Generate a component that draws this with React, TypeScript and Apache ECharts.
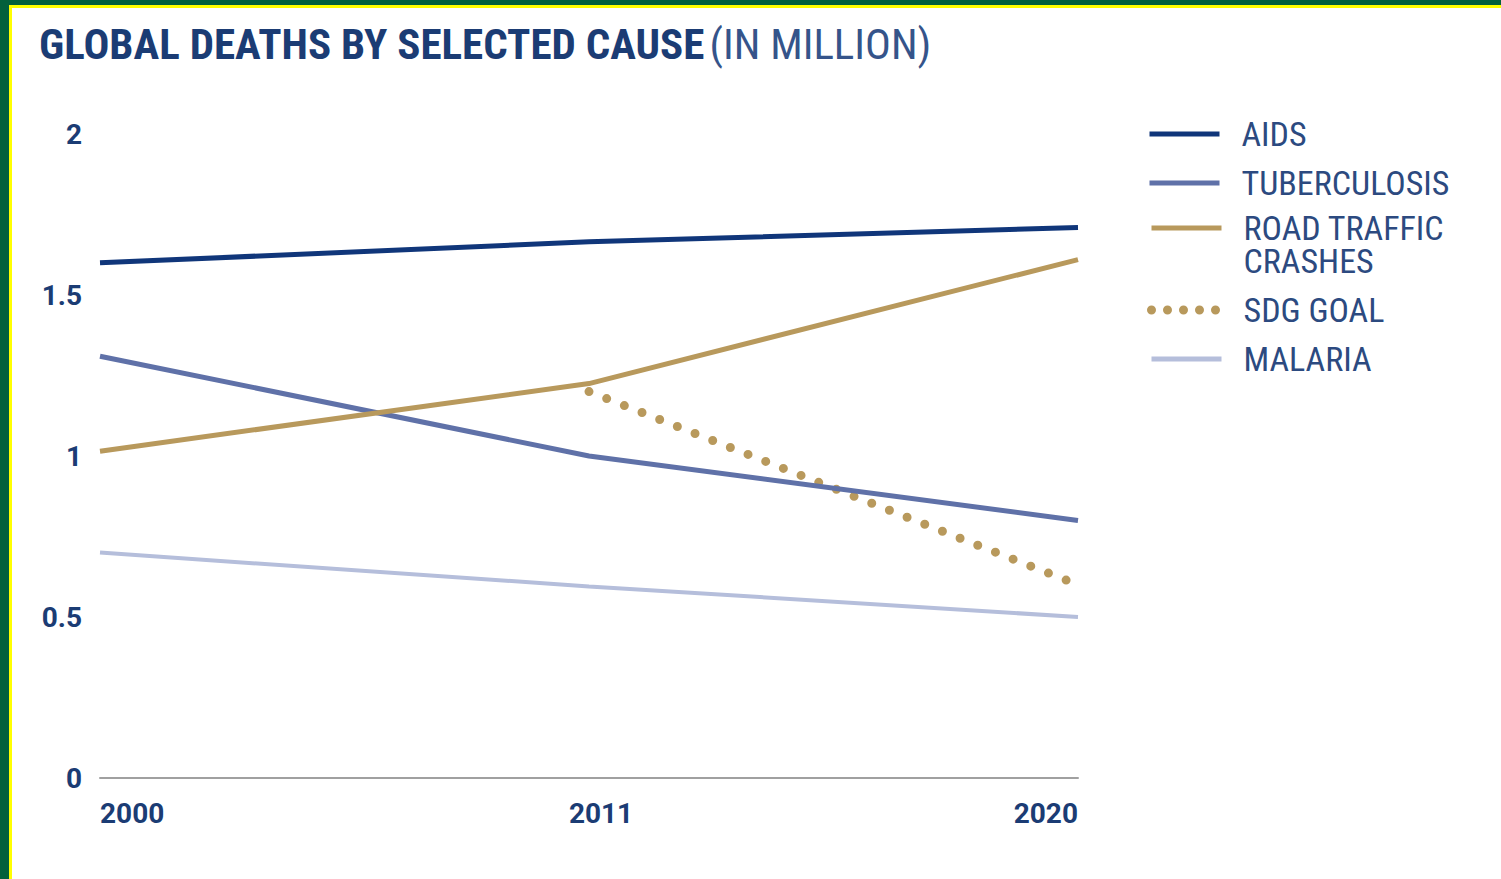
import React, { useEffect, useRef } from "react";
import * as echarts from "echarts";

const years = ["2000", "2011", "2020"];
const aids = [1.6, 1.665, 1.71];
const tuberculosis = [1.31, 1.0, 0.8];
const roadTraffic = [1.015, 1.225, 1.61];
const sdgGoal = [null, 1.2, 0.6];
const malaria = [0.7, 0.595, 0.5];
const yTicks = [0, 0.5, 1, 1.5, 2];

const NAVY = "#1b3c74";
const FONT = "'Liberation Sans Narrow', 'Arial Narrow', 'Roboto Condensed', Roboto, sans-serif";

export default function App() {
  const ref = useRef<HTMLDivElement>(null);
  useEffect(() => {
    if (!ref.current) return;
    const chart = echarts.init(ref.current, undefined, { renderer: "svg" });
    const legendText = {
      color: "#2c4a80",
      fontSize: 34,
      fontFamily: FONT,
      lineHeight: 33,
      padding: [0, 0, 0, 17],
    };
    const legendCommon = {
      orient: "vertical",
      left: 1147,
      padding: 0,
      itemWidth: 70,
      itemHeight: 10,
      itemGap: 15,
      itemStyle: { opacity: 0 },
      lineStyle: { width: 5 },
      textStyle: legendText,
    };
    const axisFont = {
      fontFamily: "Roboto, sans-serif",
      fontWeight: "bold",
      fontSize: 28,
      color: NAVY,
    };
    chart.setOption({
      animation: false,
      backgroundColor: "#ffffff",
      title: {
        text: "{b|GLOBAL DEATHS BY SELECTED CAUSE} {n|(IN MILLION)}",
        left: 39,
        top: 22,
        padding: 0,
        textStyle: {
          rich: {
            b: { fontFamily: FONT, fontWeight: "bold", fontSize: 43, color: NAVY, lineHeight: 43 },
            n: { fontFamily: FONT, fontWeight: "normal", fontSize: 43, color: "#35548a", lineHeight: 43 },
          },
        },
      },
      graphic: [
        { type: "rect", left: 0, top: 0, shape: { width: 1501, height: 8 }, style: { fill: "#ffff00" }, silent: true },
        { type: "rect", left: 0, top: 0, shape: { width: 12, height: 879 }, style: { fill: "#ffff00" }, silent: true },
        { type: "rect", left: 0, top: 0, shape: { width: 1501, height: 5 }, style: { fill: "#03603c" }, silent: true },
        { type: "rect", left: 0, top: 0, shape: { width: 9, height: 879 }, style: { fill: "#03603c" }, silent: true },
      ],
      legend: [
        {
          ...legendCommon,
          top: 117,
          data: ["AIDS", "TUBERCULOSIS"],
        },
        {
          ...legendCommon,
          top: 178,
          data: [
            "ROAD TRAFFIC CRASHES",
            { name: "SDG GOAL", lineStyle: { width: 9, type: [0, 16], cap: "round" } },
            "MALARIA",
          ],
          formatter: (name: string) => (name === "ROAD TRAFFIC CRASHES" ? "\nROAD TRAFFIC\nCRASHES" : name),
        },
      ],
      grid: { left: 100, right: 423, top: 134, bottom: 101, containLabel: false },
      xAxis: {
        type: "category",
        data: years,
        boundaryGap: false,
        axisLine: { show: true, lineStyle: { color: "#a0a0a0", width: 2 } },
        axisTick: { show: false },
        splitLine: { show: false },
        axisLabel: {
          margin: 21,
          ...axisFont,
          alignMinLabel: "left",
          alignMaxLabel: "right",
          formatter: (v: string, i: number) => (i === 1 ? "{m|" + v + "}" : v),
          rich: { m: { ...axisFont, padding: [0, 0, 0, 24] } },
        },
      },
      yAxis: {
        type: "value",
        min: yTicks[0],
        max: yTicks[yTicks.length - 1],
        interval: 0.5,
        axisLine: { show: false },
        axisTick: { show: false },
        splitLine: { show: false },
        axisLabel: {
          margin: 18,
          ...axisFont,
        },
      },
      series: [
        {
          name: "AIDS",
          type: "line",
          data: aids,
          symbol: "none",
          lineStyle: { color: "#10367a", width: 5 },
          itemStyle: { color: "#10367a" },
          z: 5,
        },
        {
          name: "TUBERCULOSIS",
          type: "line",
          data: tuberculosis,
          symbol: "none",
          lineStyle: { color: "#5f71a8", width: 5 },
          itemStyle: { color: "#5f71a8" },
          z: 4,
        },
        {
          name: "ROAD TRAFFIC CRASHES",
          type: "line",
          data: roadTraffic,
          symbol: "none",
          lineStyle: { color: "#b8995c", width: 5 },
          itemStyle: { color: "#b8995c" },
          z: 4,
        },
        {
          name: "SDG GOAL",
          type: "line",
          data: sdgGoal,
          symbol: "none",
          lineStyle: { color: "#b8995c", width: 9, type: [0, 19], cap: "round" },
          itemStyle: { color: "#b8995c" },
          z: 3,
        },
        {
          name: "MALARIA",
          type: "line",
          data: malaria,
          symbol: "none",
          lineStyle: { color: "#b5bedb", width: 4 },
          itemStyle: { color: "#b5bedb" },
          z: 2,
        },
      ],
    });
    return () => chart.dispose();
  }, []);
  return (
    <div
      ref={ref}
      style={{ position: "fixed", left: 0, top: 0, width: "1501px", height: "879px" }}
    />
  );
}
